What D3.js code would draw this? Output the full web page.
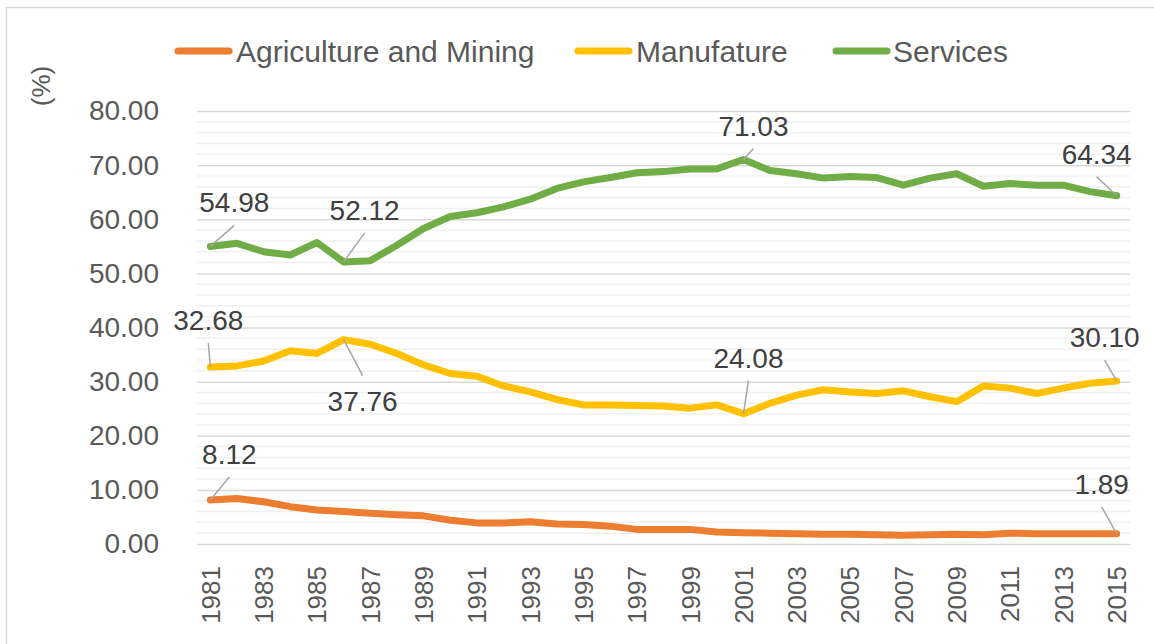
<!DOCTYPE html>
<html>
<head>
<meta charset="utf-8">
<script src="https://cdn.jsdelivr.net/npm/d3@7"></script>
<style>
  html, body { margin: 0; padding: 0; background: #fff; }
  svg { display: block; font-family: "Liberation Sans", Arial, sans-serif; }
</style>
</head>
<body>
<svg id="chart" width="1154" height="644"></svg>
<script>
// ---- data ----
const years = [1981,1982,1983,1984,1985,1986,1987,1988,1989,1990,1991,1992,1993,1994,1995,1996,1997,1998,1999,2000,2001,2002,2003,2004,2005,2006,2007,2008,2009,2010,2011,2012,2013,2014,2015];
const agriculture = [8.12,8.4,7.8,6.9,6.3,6.0,5.7,5.4,5.2,4.4,3.9,3.9,4.1,3.7,3.6,3.3,2.7,2.7,2.7,2.2,2.1,2.0,1.9,1.8,1.8,1.7,1.6,1.7,1.8,1.7,2.0,1.9,1.9,1.9,1.89];
const manufacture = [32.68,32.9,33.8,35.7,35.2,37.76,36.9,35.2,33.1,31.5,31.0,29.2,28.1,26.7,25.7,25.7,25.6,25.5,25.1,25.7,24.08,26.0,27.5,28.5,28.1,27.8,28.3,27.2,26.3,29.2,28.8,27.8,28.8,29.7,30.10];
const services = [54.98,55.55,54.0,53.4,55.7,52.12,52.35,55.2,58.3,60.5,61.2,62.3,63.7,65.7,66.9,67.7,68.6,68.8,69.3,69.3,71.03,69.0,68.4,67.6,67.9,67.7,66.3,67.6,68.4,66.1,66.6,66.3,66.3,65.1,64.34];
const seriesNames = ["Agriculture and Mining", "Manufature", "Services"];
const yTicks = [0,10,20,30,40,50,60,70,80];
const xTickYears = [1981,1983,1985,1987,1989,1991,1993,1995,1997,1999,2001,2003,2005,2007,2009,2011,2013,2015];
const yLabel = "(%)";
// labelled points: series index, year
const labelled = [[0,1981],[0,2015],[1,1981],[1,1986],[1,2001],[1,2015],[2,1981],[2,1986],[2,2001],[2,2015]];

// ---- style / layout ----
const colors = ["#ED7D31", "#FFC000", "#70AD47"];
const labelOffsets = { // dx, dy of label (center, baseline) relative to point
  "0-1981": [19,-36], "0-2015": [-15,-40],
  "1-1981": [-2,-37], "1-1986": [19,71], "1-2001": [5,-46], "1-2015": [-12,-34],
  "2-1981": [24,-34], "2-1986": [21,-42], "2-2001": [10,-24], "2-2015": [-20,-32]
};
const plot = { left: 197, right: 1130, top: 111, bottom: 544 };

const svg = d3.select("#chart");
const allSeries = [agriculture, manufacture, services];

// frame
svg.append("rect").attr("x", 6.5).attr("y", 7.5).attr("width", 1300).attr("height", 800)
  .attr("fill", "none").attr("stroke", "#d9d9d9").attr("stroke-width", 1.5);

const x = d3.scaleBand().domain(years).range([plot.left, plot.right]);
const xc = yr => x(yr) + x.bandwidth() / 2;
const y = d3.scaleLinear().domain([0, 80]).range([plot.bottom, plot.top]);

// minor gridlines
const minor = d3.range(0, 81, 2).filter(v => v % 10 !== 0);
svg.append("g").selectAll("line").data(minor).join("line")
  .attr("x1", plot.left).attr("x2", plot.right)
  .attr("y1", d => y(d)).attr("y2", d => y(d))
  .attr("stroke", "#f0f0f0").attr("stroke-width", 1.5);

// y axis with major gridlines
const yAxis = d3.axisLeft(y).tickValues(yTicks).tickFormat(d3.format(".2f"))
  .tickSize(-(plot.right - plot.left)).tickPadding(38);
const gy = svg.append("g").attr("transform", `translate(${plot.left},0)`).call(yAxis);
gy.select(".domain").remove();
gy.selectAll(".tick line").attr("stroke", "#d9d9d9").attr("stroke-width", 1.5);
gy.selectAll(".tick text").attr("fill", "#595959").attr("font-size", 28)
  .attr("font-family", "Liberation Sans, Arial, sans-serif");

// x axis
const xAxis = d3.axisBottom(x).tickValues(xTickYears).tickSize(0).tickPadding(0);
const gx = svg.append("g").attr("transform", `translate(0,${plot.bottom})`).call(xAxis);
gx.select(".domain").remove();
gx.selectAll(".tick text")
  .attr("fill", "#595959").attr("font-size", 26)
  .attr("font-family", "Liberation Sans, Arial, sans-serif")
  .attr("text-anchor", "end")
  .attr("transform", "translate(0,22) rotate(-90)")
  .attr("x", 0).attr("y", 0).attr("dy", "0.36em");

// y label
svg.append("text").attr("transform", "translate(41,86) rotate(-90)")
  .attr("text-anchor", "middle").attr("dy", "0.35em")
  .attr("fill", "#595959").attr("font-size", 26).text(yLabel);

// lines
const line = d3.line().x((d, i) => xc(years[i])).y(d => y(d));
svg.append("g").selectAll("path").data(allSeries).join("path")
  .attr("d", d => line(d))
  .attr("fill", "none")
  .attr("stroke", (d, i) => colors[i])
  .attr("stroke-width", 7)
  .attr("stroke-linejoin", "round")
  .attr("stroke-linecap", "round");

// data labels + leaders
const fmt = d3.format(".2f");
const gl = svg.append("g");
labelled.forEach(([si, yr]) => {
  const idx = years.indexOf(yr);
  const v = allSeries[si][idx];
  const px = xc(yr), py = y(v);
  const [dx, dy] = labelOffsets[si + "-" + yr];
  const tx = px + dx, ty = py + dy;
  const below = dy > 0;
  const lx = tx, ly = below ? ty - 35 : ty + 13;
  gl.append("line").attr("x1", px).attr("y1", py).attr("x2", lx).attr("y2", ly)
    .attr("stroke", "#a6a6a6").attr("stroke-width", 1.5);
  gl.append("text").attr("x", tx).attr("y", ty).attr("text-anchor", "middle")
    .attr("fill", "#404040").attr("font-size", 28).text(fmt(v));
});

// legend
const legendItems = [
  { x1: 175, x2: 232, tx: 236 },
  { x1: 575, x2: 632, tx: 636 },
  { x1: 833, x2: 890, tx: 893 }
];
const lg = svg.append("g");
seriesNames.forEach((name, i) => {
  const it = legendItems[i];
  lg.append("line").attr("x1", it.x1 + 3).attr("x2", it.x2 - 3).attr("y1", 51).attr("y2", 51)
    .attr("stroke", colors[i]).attr("stroke-width", 7).attr("stroke-linecap", "round");
  lg.append("text").attr("x", it.tx).attr("y", 51).attr("dy", "0.35em")
    .attr("fill", "#595959").attr("font-size", 30).text(name);
});
</script>
</body>
</html>
